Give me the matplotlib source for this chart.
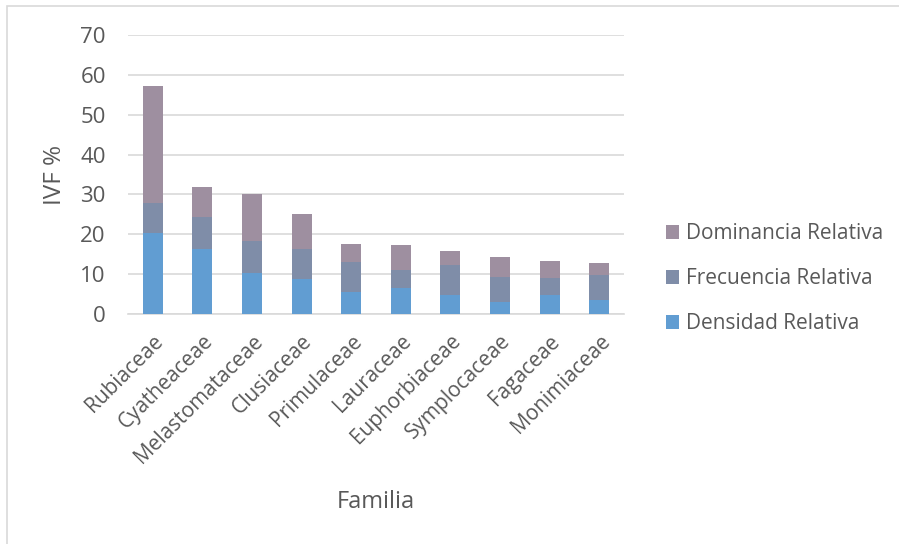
import numpy as np
import matplotlib
matplotlib.use("Agg")
from matplotlib import pyplot as plt
from matplotlib.patches import Rectangle

familias = ["Rubiaceae", "Cyatheaceae", "Melastomataceae", "Clusiaceae",
            "Primulaceae", "Lauraceae", "Euphorbiaceae", "Symplocaceae",
            "Fagaceae", "Monimiaceae"]
densidad = [20.2, 16.4, 10.4, 8.7, 5.4, 6.4, 4.7, 3.1, 4.7, 3.6]
frecuencia = [7.7, 7.9, 7.9, 7.7, 7.7, 4.6, 7.55, 6.2, 4.4, 6.2]
dominancia = [29.4, 7.6, 11.7, 8.6, 4.4, 6.2, 3.5, 4.9, 4.3, 2.95]

c_dens = "#619DD2"
c_frec = "#7F8DA8"
c_dom = "#9E8FA0"
txt = "#595959"

plt.rcParams['font.family'] = ['Open Sans', 'DejaVu Sans']

fig = plt.figure(figsize=(8.99, 5.44), dpi=100)
ax = fig.add_axes([128 / 899, 1 - 314 / 544, 496 / 899, 279 / 544])

x = np.arange(len(familias))
dens = np.array(densidad)
frec = np.array(frecuencia)
dom = np.array(dominancia)

w = 0.4
b1 = ax.bar(x, dens, w, color=c_dens, label="Densidad Relativa", zorder=3)
b2 = ax.bar(x, frec, w, bottom=dens, color=c_frec, label="Frecuencia Relativa", zorder=3)
b3 = ax.bar(x, dom, w, bottom=dens + frec, color=c_dom, label="Dominancia Relativa", zorder=3)

ax.set_xlim(-0.5, len(familias) - 0.5)
ax.set_ylim(0, 70)
ax.set_yticks(range(0, 71, 10))
ax.yaxis.grid(True, color="#D9D9D9", linewidth=1.2, zorder=0)
for s in ["top", "right", "left"]:
    ax.spines[s].set_visible(False)
ax.spines["bottom"].set_color("#D9D9D9")
ax.spines["bottom"].set_linewidth(1.2)
ax.tick_params(length=0, colors=txt)
ax.tick_params(axis="y", pad=16, labelsize=16)
ax.set_xticks(x)
ax.set_xticklabels(familias, rotation=45, ha="right", rotation_mode="anchor")
ax.tick_params(axis="x", pad=12, labelsize=15)

ax.set_ylabel("IVF %", color=txt, fontsize=17.5)
ax.set_xlabel("Familia", color=txt, fontsize=17)
ax.xaxis.set_label_coords(0.5, -0.63)
ax.yaxis.set_label_coords(-0.123, 0.5)

handles = [b3, b2, b1]
leg = fig.legend(handles, [h.get_label() for h in handles], loc="center left",
                 bbox_to_anchor=(647 / 899, 1 - 278.5 / 544), frameon=False,
                 fontsize=15, labelcolor=txt, handlelength=0.65, handleheight=0.65,
                 handletextpad=0.3, labelspacing=1.15)

fig.patches.append(Rectangle((7 / 899, -0.1), 1.2, (1 - 6.5 / 544) + 0.1,
                             transform=fig.transFigure, fill=False,
                             edgecolor="#D9D9D9", linewidth=1.2))

fig.savefig("out.png", dpi=100)
